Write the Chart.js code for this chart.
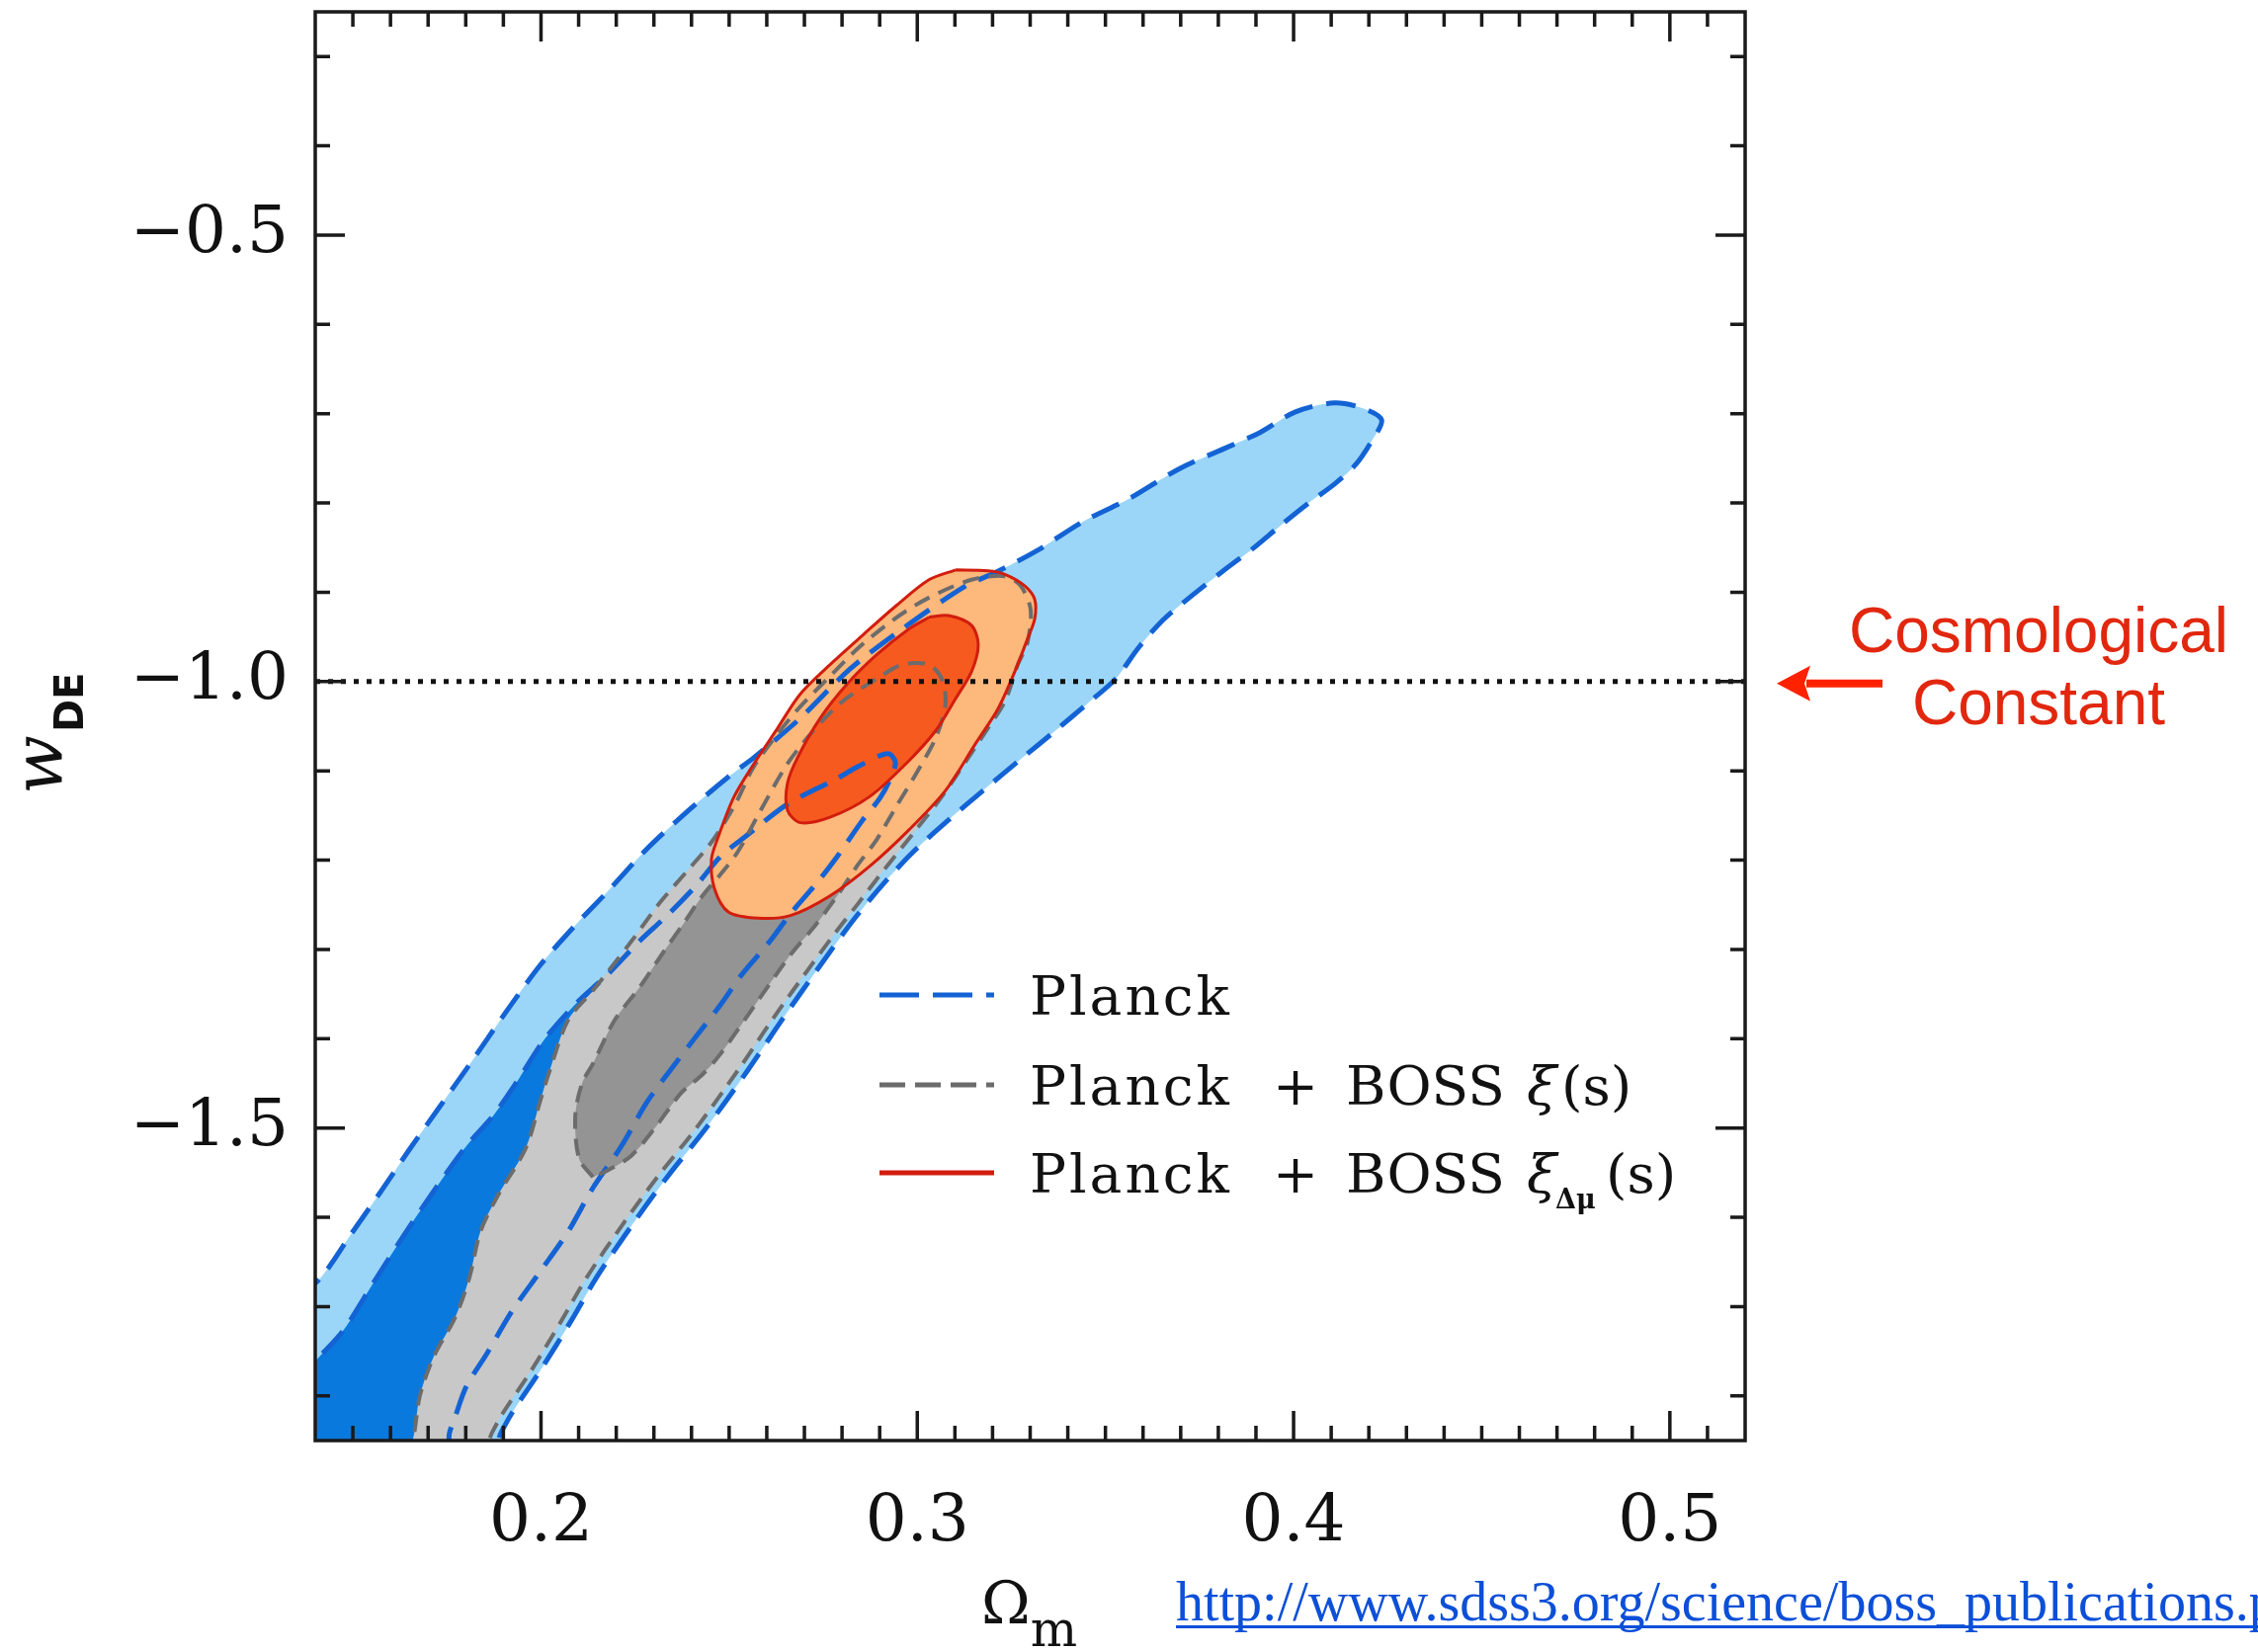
<!DOCTYPE html>
<html>
<head>
<meta charset="utf-8">
<title>w_DE vs Omega_m</title>
<script src="https://cdn.jsdelivr.net/npm/chart.js@4/dist/chart.umd.min.js"></script>
<style>
html,body{margin:0;padding:0;background:#ffffff;overflow:hidden;}
#wrap{position:relative;width:2285px;height:1672px;}
canvas{display:block;}
</style>
</head>
<body>
<div id="wrap"><canvas id="chart"></canvas></div>
<script>
// ---- axes ----
const xRange = [0.14, 0.52];
const yRange = [-1.85, -0.25];
const xTickValues = [0.2, 0.3, 0.4, 0.5];
const xTickLabels = ['0.2', '0.3', '0.4', '0.5'];
const yTickValues = [-1.5, -1.0, -0.5];
const yTickLabels = ['\u22121.5', '\u22121.0', '\u22120.5'];
const cosmologicalConstantW = -1.0;

// ---- Planck 95% contour ----
const planckOuterX = [0.135,0.1416,0.1495,0.1573,0.1652,0.1731,0.1815,0.1902,0.1999,0.2091,0.2175,0.228,0.2393,0.2503,0.2566,0.2689,0.2821,0.296,0.3128,0.3207,0.332,0.344,0.3564,0.3695,0.3827,0.3911,0.4005,0.4108,0.4184,0.4234,0.4207,0.4165,0.4108,0.4037,0.3966,0.3892,0.3813,0.3732,0.3653,0.3588,0.3527,0.3451,0.3367,0.3272,0.3175,0.3083,0.2991,0.2913,0.2834,0.2747,0.2645,0.255,0.2437,0.2335,0.2243,0.2148,0.208,0.1999,0.1923,0.1894,0.1862,0.135];
const planckOuterY = [-1.691,-1.667,-1.619,-1.572,-1.523,-1.476,-1.426,-1.373,-1.317,-1.273,-1.236,-1.188,-1.144,-1.105,-1.085,-1.041,-0.986,-0.941,-0.893,-0.878,-0.853,-0.821,-0.795,-0.762,-0.737,-0.721,-0.698,-0.688,-0.694,-0.707,-0.731,-0.757,-0.779,-0.801,-0.825,-0.851,-0.876,-0.903,-0.931,-0.962,-0.997,-1.025,-1.055,-1.088,-1.122,-1.155,-1.190,-1.225,-1.265,-1.315,-1.376,-1.435,-1.501,-1.555,-1.608,-1.667,-1.716,-1.771,-1.819,-1.841,-1.868,-1.868];

// ---- Planck 68% contour ----
const planckInnerX = [0.135,0.1397,0.1474,0.1558,0.1642,0.1726,0.1802,0.1875,0.1941,0.2007,0.2083,0.2138,0.2175,0.2261,0.2335,0.2411,0.2477,0.2542,0.2645,0.2708,0.2776,0.2839,0.29,0.2926,0.2942,0.2926,0.29,0.2855,0.2787,0.2734,0.2663,0.2608,0.2532,0.2477,0.2411,0.2335,0.228,0.2214,0.2138,0.2072,0.1999,0.1923,0.1857,0.1802,0.1773,0.1757,0.1744,0.135];
const planckInnerY = [-1.791,-1.763,-1.727,-1.671,-1.616,-1.564,-1.520,-1.485,-1.445,-1.402,-1.365,-1.343,-1.329,-1.291,-1.262,-1.229,-1.196,-1.174,-1.140,-1.125,-1.111,-1.096,-1.083,-1.081,-1.091,-1.111,-1.131,-1.155,-1.196,-1.225,-1.260,-1.291,-1.329,-1.362,-1.398,-1.440,-1.472,-1.520,-1.567,-1.616,-1.660,-1.705,-1.752,-1.789,-1.822,-1.841,-1.868,-1.868];

// ---- Planck + BOSS xi(s) 95% contour ----
const bossXiOuterX = [0.1639,0.166,0.1678,0.1715,0.1773,0.181,0.1839,0.1886,0.1959,0.1999,0.2022,0.2072,0.2138,0.224,0.2317,0.2393,0.2458,0.2519,0.2563,0.2624,0.2689,0.2768,0.2847,0.2939,0.3031,0.3144,0.3233,0.3275,0.3301,0.3293,0.3267,0.3233,0.3188,0.3136,0.3065,0.2991,0.2913,0.2842,0.2781,0.2716,0.2619,0.2524,0.2411,0.2309,0.2217,0.2122,0.2054,0.1975,0.1899,0.187,0.1839];
const bossXiOuterY = [-1.868,-1.848,-1.800,-1.756,-1.711,-1.667,-1.616,-1.575,-1.523,-1.468,-1.437,-1.379,-1.346,-1.291,-1.247,-1.210,-1.177,-1.135,-1.097,-1.061,-1.028,-0.994,-0.961,-0.930,-0.906,-0.886,-0.882,-0.893,-0.919,-0.956,-0.981,-1.022,-1.052,-1.085,-1.129,-1.169,-1.210,-1.249,-1.282,-1.319,-1.376,-1.435,-1.501,-1.555,-1.608,-1.667,-1.716,-1.771,-1.819,-1.841,-1.868];

// ---- Planck + BOSS xi(s) 68% contour ----
const bossXiInnerX = [0.2138,0.2101,0.2091,0.2109,0.2138,0.2196,0.2261,0.2327,0.2382,0.2429,0.2477,0.2524,0.2584,0.2655,0.2724,0.2802,0.2892,0.296,0.3031,0.3065,0.3075,0.3049,0.2997,0.2944,0.2892,0.2839,0.2787,0.2729,0.2663,0.2569,0.2477,0.2429,0.2372,0.2306,0.224,0.2175];
const bossXiInnerY = [-1.555,-1.534,-1.487,-1.450,-1.428,-1.379,-1.343,-1.302,-1.269,-1.240,-1.216,-1.190,-1.144,-1.092,-1.055,-1.022,-0.997,-0.981,-0.981,-0.997,-1.025,-1.063,-1.103,-1.140,-1.177,-1.207,-1.240,-1.273,-1.306,-1.362,-1.417,-1.440,-1.461,-1.498,-1.531,-1.548];

// ---- Planck + BOSS xi_Delta_mu(s) 95% contour ----
const bossWedgeOuterX = [0.3102,0.3188,0.3233,0.3286,0.3312,0.3312,0.3293,0.3259,0.3215,0.3154,0.3075,0.2978,0.2873,0.2768,0.2663,0.2577,0.2498,0.2461,0.2453,0.2471,0.2513,0.2566,0.2629,0.2689,0.2776,0.2855,0.2944,0.3031];
const bossWedgeOuterY = [-0.875,-0.876,-0.880,-0.893,-0.908,-0.930,-0.952,-0.989,-1.030,-1.070,-1.122,-1.166,-1.207,-1.240,-1.262,-1.265,-1.258,-1.232,-1.199,-1.174,-1.129,-1.092,-1.052,-1.014,-0.978,-0.948,-0.915,-0.886];

// ---- Planck + BOSS xi_Delta_mu(s) 68% contour ----
const bossWedgeInnerX = [0.3031,0.3083,0.3144,0.3162,0.3144,0.3102,0.3049,0.297,0.2873,0.2768,0.2689,0.2655,0.2655,0.2682,0.2742,0.2813,0.2892,0.2978];
const bossWedgeInnerY = [-0.928,-0.926,-0.937,-0.959,-0.989,-1.019,-1.055,-1.092,-1.129,-1.152,-1.158,-1.144,-1.114,-1.085,-1.041,-1.003,-0.970,-0.941];

const seriesNames = ['Planck', 'Planck + BOSS \u03be(s)', 'Planck + BOSS \u03be\u0394\u03bc(s)'];

function closedShape(xs, ys) {
  const p = xs.map((x, i) => ({x: x, y: ys[i]}));
  p.push({x: xs[0], y: ys[0]});
  return p;
}

const BLUE_LINE = '#1463d4';
const GRAY_LINE = '#6c6c6c';
const RED_LINE = '#d21d0e';

const datasets = [
  {label: 'w = -1', data: [{x: xRange[0], y: cosmologicalConstantW}, {x: xRange[1], y: cosmologicalConstantW}],
   borderColor: '#111111', borderWidth: 5, borderDash: [5, 8], fill: false, tension: 0},
  {label: seriesNames[2] + ' 68%', data: closedShape(bossWedgeInnerX, bossWedgeInnerY),
   backgroundColor: '#f75a1f', borderColor: RED_LINE, borderWidth: 3, fill: 'shape'},
  {label: seriesNames[2] + ' 95%', data: closedShape(bossWedgeOuterX, bossWedgeOuterY),
   backgroundColor: '#fdb87c', borderColor: RED_LINE, borderWidth: 3, fill: 'shape'},
  {label: seriesNames[1] + ' 68%', data: closedShape(bossXiInnerX, bossXiInnerY),
   backgroundColor: '#949494', borderColor: GRAY_LINE, borderWidth: 4, borderDash: [17, 10], fill: 'shape'},
  {label: seriesNames[1] + ' 95%', data: closedShape(bossXiOuterX, bossXiOuterY),
   backgroundColor: '#c8c8c8', borderColor: GRAY_LINE, borderWidth: 4, borderDash: [17, 10], fill: 'shape'},
  {label: seriesNames[0] + ' 68%', data: closedShape(planckInnerX, planckInnerY),
   backgroundColor: '#0a79de', borderColor: BLUE_LINE, borderWidth: 5, borderDash: [30, 14], fill: 'shape'},
  {label: seriesNames[0] + ' 95%', data: closedShape(planckOuterX, planckOuterY),
   backgroundColor: '#9bd6f8', borderColor: BLUE_LINE, borderWidth: 5, borderDash: [30, 14], fill: 'shape'}
];

const decor = {
  id: 'decor',
  afterDraw(chart) {
    const ctx = chart.ctx;
    const a = chart.chartArea;
    const xs = chart.scales.x, ys = chart.scales.y;
    ctx.save();
    // inward ticks
    ctx.strokeStyle = '#1a1a1a';
    ctx.lineWidth = 3.5;
    ctx.setLineDash([]);
    ctx.beginPath();
    for (let k = Math.round(xRange[0] * 100) + 1; k < Math.round(xRange[1] * 100); k++) {
      const px = xs.getPixelForValue(k / 100);
      const L = (k % 10 === 0) ? 30 : 15;
      ctx.moveTo(px, a.bottom); ctx.lineTo(px, a.bottom - L);
      ctx.moveTo(px, a.top); ctx.lineTo(px, a.top + L);
    }
    for (let k = Math.round(yRange[0] * 10); k <= Math.round(yRange[1] * 10); k++) {
      const v = k / 10;
      if (v <= yRange[0] || v >= yRange[1]) continue;
      const py = ys.getPixelForValue(v);
      const L = (k % 5 === 0) ? 30 : 15;
      ctx.moveTo(a.left, py); ctx.lineTo(a.left + L, py);
      ctx.moveTo(a.right, py); ctx.lineTo(a.right - L, py);
    }
    ctx.stroke();
    // frame
    ctx.lineWidth = 3.5;
    ctx.strokeRect(a.left, a.top, a.right - a.left, a.bottom - a.top);

    // legend
    const lx0 = 890, lx1 = 1006, tx = 1042;
    const rows = [1027, 1118, 1207];
    const samples = [
      {c: BLUE_LINE, d: [40, 14]},
      {c: GRAY_LINE, d: [26, 10]},
      {c: RED_LINE, d: []}
    ];
    samples.forEach((s, i) => {
      ctx.beginPath();
      ctx.strokeStyle = s.c; ctx.lineWidth = 5; ctx.setLineDash(s.d);
      ctx.moveTo(lx0, rows[i] - 20); ctx.lineTo(lx1, rows[i] - 20);
      ctx.stroke();
    });
    ctx.setLineDash([]);
    ctx.fillStyle = '#111111';
    ctx.textBaseline = 'alphabetic';
    ctx.textAlign = 'left';
    const serif = '"DejaVu Serif", "Liberation Serif", serif';
    for (let r = 0; r <= 2; r++) {
      ctx.font = '55px ' + serif;
      ctx.letterSpacing = '3px';
      ctx.fillText('Planck', tx, rows[r]);
      ctx.letterSpacing = '0px';
      if (r === 0) continue;
      ctx.fillText('+', tx + 246, rows[r]);
      ctx.fillText('BOSS', tx + 320, rows[r]);
      ctx.font = 'italic 55px ' + serif;
      ctx.fillText('\u03be', tx + 503, rows[r]);
    }
    ctx.font = '55px ' + serif;
    ctx.fillText('(s)', tx + 538, rows[1]);
    ctx.font = 'bold 27px ' + serif;
    ctx.fillText('\u0394\u03bc', tx + 532, rows[2] + 16);
    ctx.font = '55px ' + serif;
    ctx.fillText('(s)', tx + 583, rows[2]);

    // axis titles
    ctx.font = '60px ' + serif;
    ctx.fillText('\u03a9', 993, 1643);
    const wO = ctx.measureText('\u03a9').width;
    ctx.font = '50px ' + serif;
    ctx.fillText('m', 993 + wO, 1666);

    ctx.save();
    ctx.translate(62, 804);
    ctx.rotate(-Math.PI / 2);
    ctx.font = 'italic 70px ' + serif;
    ctx.fillText('w', 0, 0);
    const ww = ctx.measureText('w').width;
    ctx.font = 'bold 40px "DejaVu Sans", sans-serif';
    ctx.fillText('DE', ww + 3, 22);
    ctx.restore();

    // annotation
    const yLam = ys.getPixelForValue(cosmologicalConstantW);
    ctx.fillStyle = '#ff2200';
    ctx.strokeStyle = '#ff2200';
    ctx.lineWidth = 8;
    ctx.beginPath();
    ctx.moveTo(1828, yLam + 2); ctx.lineTo(1905, yLam + 2);
    ctx.stroke();
    ctx.beginPath();
    ctx.moveTo(1798, yLam + 2);
    ctx.lineTo(1832, yLam - 16);
    ctx.lineTo(1826, yLam + 2);
    ctx.lineTo(1832, yLam + 20);
    ctx.closePath();
    ctx.fill();
    ctx.fillStyle = '#e2270f';
    ctx.textAlign = 'center';
    ctx.font = '64px "Liberation Sans", Arial, sans-serif';
    ctx.fillText('Cosmological', 2063, 660);
    ctx.fillText('Constant', 2063, 733);

    // source link
    ctx.textAlign = 'left';
    ctx.fillStyle = '#0c4fd8';
    ctx.font = '56px "Liberation Serif", "Times New Roman", serif';
    const url = 'http://www.sdss3.org/science/boss_publications.php';
    ctx.fillText(url, 1190, 1640);
    const uw = ctx.measureText(url).width;
    ctx.fillRect(1190, 1645, uw, 3);
    ctx.restore();
  }
};

new Chart(document.getElementById('chart'), {
  type: 'line',
  data: {datasets: datasets},
  options: {
    responsive: true,
    maintainAspectRatio: false,
    animation: false,
    devicePixelRatio: 1,
    events: [],
    layout: {padding: {left: 0, top: 12, right: 519, bottom: 0}},
    elements: {point: {radius: 0, hoverRadius: 0}, line: {tension: 0.3}},
    plugins: {
      legend: {display: false},
      tooltip: {enabled: false},
      filler: {drawTime: 'beforeDatasetsDraw', propagate: false}
    },
    scales: {
      x: {
        type: 'linear', min: xRange[0], max: xRange[1],
        grid: {display: false, drawTicks: false},
        border: {display: false},
        afterBuildTicks: s => { s.ticks = xTickValues.map(v => ({value: v})); },
        afterFit: s => { s.height = 214; s.paddingLeft = 0; s.paddingRight = 0; },
        ticks: {
          autoSkip: false, maxRotation: 0, padding: 44, color: '#111111',
          font: {family: '"DejaVu Serif", serif', size: 66},
          callback: (v, i) => xTickLabels[i]
        }
      },
      y: {
        type: 'linear', min: yRange[0], max: yRange[1],
        grid: {display: false, drawTicks: false},
        border: {display: false},
        afterBuildTicks: s => { s.ticks = yTickValues.map(v => ({value: v})); },
        afterFit: s => { s.width = 319; s.paddingTop = 0; s.paddingBottom = 0; },
        ticks: {
          autoSkip: false, padding: 27, color: '#111111',
          font: {family: '"DejaVu Serif", serif', size: 66},
          callback: (v, i) => yTickLabels[i]
        }
      }
    }
  },
  plugins: [decor]
});
</script>
</body>
</html>
